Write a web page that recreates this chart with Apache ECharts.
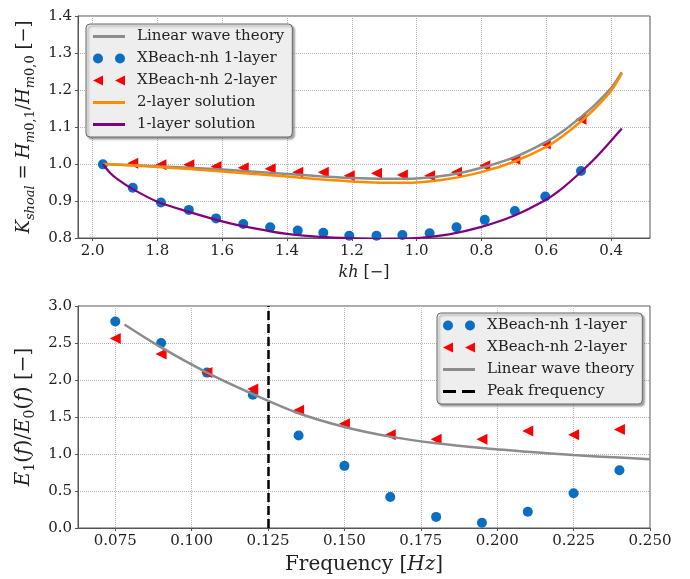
<!DOCTYPE html>
<html><head><meta charset="utf-8">
<script src="https://cdn.jsdelivr.net/npm/echarts@6/dist/echarts.min.js"></script>
<style>html,body{margin:0;padding:0;background:#fff}#c{width:690px;height:579px}</style>
</head><body><div id="c"></div>
<script>
// ---------- Top panel data (shoaling coefficient vs kh) ----------
const khTicks = [0.4, 0.6, 0.8, 1.0, 1.2, 1.4, 1.6, 1.8, 2.0];
const khNh1 = [1.968, 1.876, 1.789, 1.703, 1.619, 1.535, 1.452, 1.367, 1.288, 1.208, 1.124, 1.044, 0.960, 0.877, 0.790, 0.697, 0.603, 0.493];
const kNh1  = [0.999, 0.936, 0.896, 0.876, 0.853, 0.838, 0.829, 0.820, 0.814, 0.806, 0.806, 0.808, 0.813, 0.829, 0.849, 0.873, 0.912, 0.981];
const khNh2 = [1.876, 1.789, 1.703, 1.619, 1.535, 1.452, 1.367, 1.288, 1.208, 1.124, 1.044, 0.960, 0.877, 0.790, 0.697, 0.603, 0.493];
const kNh2  = [1.002, 0.998, 0.998, 0.993, 0.990, 0.987, 0.978, 0.978, 0.968, 0.975, 0.970, 0.968, 0.978, 0.995, 1.013, 1.054, 1.121];
const khLin = [1.968, 1.8, 1.6, 1.4, 1.3, 1.2, 1.1, 1.0, 0.9, 0.8, 0.7, 0.6, 0.55, 0.5, 0.45, 0.4, 0.367];
const kLin  = [1.000, 0.994, 0.985, 0.973, 0.967, 0.962, 0.960, 0.961, 0.970, 0.990, 1.018, 1.060, 1.088, 1.122, 1.160, 1.205, 1.248];
const khTwo = [1.968, 1.8, 1.6, 1.4, 1.3, 1.2, 1.1, 1.0, 0.9, 0.8, 0.7, 0.6, 0.55, 0.5, 0.45, 0.4, 0.367];
const kTwo  = [1.000, 0.992, 0.980, 0.966, 0.959, 0.953, 0.949, 0.950, 0.960, 0.978, 1.006, 1.046, 1.075, 1.110, 1.150, 1.198, 1.245];
const khOne = [1.968, 1.945, 1.92, 1.876, 1.8, 1.7, 1.6, 1.5, 1.4, 1.3, 1.2, 1.1, 1.0, 0.9, 0.8, 0.7, 0.6, 0.55, 0.5, 0.45, 0.4, 0.367];
const kOne  = [1.000, 0.975, 0.957, 0.932, 0.898, 0.870, 0.845, 0.826, 0.811, 0.803, 0.799, 0.797, 0.800, 0.810, 0.830, 0.860, 0.904, 0.935, 0.973, 1.015, 1.063, 1.096];

// ---------- Bottom panel data (energy ratio vs frequency) ----------
const freqTicks = [0.075, 0.100, 0.125, 0.150, 0.175, 0.200, 0.225, 0.250];
const freq  = [0.075, 0.090, 0.105, 0.120, 0.135, 0.150, 0.165, 0.180, 0.195, 0.210, 0.225, 0.240];
const eNh1  = [2.79, 2.50, 2.10, 1.80, 1.25, 0.84, 0.42, 0.15, 0.07, 0.22, 0.47, 0.78];
const eNh2  = [2.56, 2.35, 2.10, 1.88, 1.59, 1.41, 1.26, 1.20, 1.20, 1.31, 1.26, 1.33];
const freqLin = [0.078, 0.090, 0.105, 0.120, 0.135, 0.150, 0.165, 0.180, 0.195, 0.210, 0.225, 0.240, 0.250];
const eLin    = [2.75, 2.44, 2.10, 1.81, 1.55, 1.365, 1.235, 1.145, 1.08, 1.03, 0.985, 0.952, 0.93];
const peakFreq = 0.125;

const zip = (a, b) => a.map((v, i) => [v, b[i]]);
const SERIF = 'DejaVu Serif';
const BLUE = '#0a6fc2', RED = '#ff0000', GRAY = '#8c8c8c', ORANGE = '#ff8c00', PURPLE = '#800080';
const circ2 = 'path://M0,5a5,5 0 1,0 10,0a5,5 0 1,0 -10,0ZM22,5a5,5 0 1,0 10,0a5,5 0 1,0 -10,0Z';
const tri2 = 'path://M0,5L10,0L10,10ZM22,5L32,0L32,10Z';
const bar = 'path://M0,0H32V3H0Z';
const dash2 = 'path://M0,0H13V3H0ZM19,0H32V3H19Z';

const richName = (big) => ({
  i: {fontFamily: SERIF, fontStyle: 'italic', fontSize: big, lineHeight: 26, color: '#222'},
  n: {fontFamily: SERIF, fontSize: big, lineHeight: 26, color: '#222'},
  s: {fontFamily: SERIF, fontStyle: 'italic', fontSize: Math.round(big * 0.7), lineHeight: 14, verticalAlign: 'bottom', color: '#222'},
  d: {fontFamily: SERIF, fontSize: Math.round(big * 0.7), lineHeight: 14, verticalAlign: 'bottom', color: '#222'}
});

const gridLine = {show: true, lineStyle: {color: '#b5b5b5', type: 'dotted', width: 1}};
const axLine = {show: true, lineStyle: {color: '#555', width: 1}};
const tickLab = {fontFamily: SERIF, fontSize: 15, color: '#222', margin: 6};
const tick = {show: true, length: 3, lineStyle: {color: '#555'}};

const legendBase = {
  orient: 'vertical', itemWidth: 32, itemHeight: 10, itemGap: 7,
  backgroundColor: '#eeeeee', borderColor: '#666', borderWidth: 1, borderRadius: 4,
  shadowColor: 'rgba(0,0,0,0.35)', shadowBlur: 2, shadowOffsetX: 2, shadowOffsetY: 2,
  textStyle: {fontFamily: SERIF, fontSize: 15, color: '#222', padding: [0, 0, 0, 7], lineHeight: 15},
  selectedMode: false
};

const chart = echarts.init(document.getElementById('c'), null, {renderer: 'canvas'});
chart.setOption({
  animation: false,
  backgroundColor: '#fff',
  grid: [
    {left: 78, right: 40, top: 16, height: 222, show: true, borderColor: '#555', borderWidth: 1},
    {left: 78, right: 40, top: 306, height: 222, show: true, borderColor: '#555', borderWidth: 1}
  ],
  xAxis: [
    {type: 'value', gridIndex: 0, inverse: true, min: 0.28, max: 2.045,
     axisLine: axLine, axisTick: Object.assign({customValues: khTicks}, tick),
     axisLabel: Object.assign({customValues: khTicks, formatter: v => v.toFixed(1)}, tickLab),
     splitLine: gridLine,
     name: '{i|kh}{n| [−]}', nameLocation: 'middle', nameGap: 22,
     nameTextStyle: {rich: richName(16)}},
    {type: 'value', gridIndex: 1, min: 0.0628, max: 0.25,
     axisLine: axLine, axisTick: Object.assign({customValues: freqTicks}, tick),
     axisLabel: Object.assign({customValues: freqTicks, formatter: v => v.toFixed(3)}, tickLab),
     splitLine: gridLine,
     name: '{n|Frequency [}{i|Hz}{n|]}', nameLocation: 'middle', nameGap: 24,
     nameTextStyle: {rich: richName(20)}}
  ],
  yAxis: [
    {type: 'value', gridIndex: 0, min: 0.8, max: 1.4, interval: 0.1,
     axisLine: axLine, axisTick: tick,
     axisLabel: Object.assign({formatter: v => v.toFixed(1)}, tickLab),
     splitLine: gridLine,
     name: '{i|K}{s|shoal}{n| = }{i|H}{s|m}{d|0,1}{n|/}{i|H}{s|m}{d|0,0}{n| [−]}',
     nameLocation: 'middle', nameGap: 40, nameRotate: 90,
     nameTextStyle: {rich: richName(18)}},
    {type: 'value', gridIndex: 1, min: 0, max: 3, interval: 0.5,
     axisLine: axLine, axisTick: tick,
     axisLabel: Object.assign({formatter: v => v.toFixed(1)}, tickLab),
     splitLine: gridLine,
     name: '{i|E}{d|1}{n|(}{i|f}{n|)/}{i|E}{d|0}{n|(}{i|f}{n|) [−]}',
     nameLocation: 'middle', nameGap: 40, nameRotate: 90,
     nameTextStyle: {rich: richName(20)}}
  ],
  legend: [
    Object.assign({}, legendBase, {left: 86, top: 24, padding: [5, 8, 5, 7],
      data: [
        {name: 'Linear wave theory', icon: bar},
        {name: 'XBeach-nh 1-layer', icon: circ2},
        {name: 'XBeach-nh 2-layer', icon: tri2},
        {name: '2-layer solution', icon: bar},
        {name: '1-layer solution', icon: bar}
      ]}),
    Object.assign({}, legendBase, {left: 437, top: 313, padding: [5, 8, 5, 6],
      data: [
        {name: 'XBeach-nh 1-layer', icon: circ2},
        {name: 'XBeach-nh 2-layer', icon: tri2},
        {name: 'Linear wave theory', icon: bar},
        {name: 'Peak frequency', icon: dash2}
      ]})
  ],
  series: [
    {name: 'Linear wave theory', type: 'line', xAxisIndex: 0, yAxisIndex: 0, data: zip(khLin, kLin),
     smooth: 0.3, showSymbol: false, symbol: 'none', lineStyle: {color: GRAY, width: 2.5}, itemStyle: {color: GRAY}},
    {name: 'XBeach-nh 1-layer', type: 'scatter', xAxisIndex: 0, yAxisIndex: 0, data: zip(khNh1, kNh1),
     symbol: 'circle', symbolSize: 10, itemStyle: {color: BLUE, opacity: 1}},
    {name: 'XBeach-nh 2-layer', type: 'scatter', xAxisIndex: 0, yAxisIndex: 0, data: zip(khNh2, kNh2),
     symbol: 'triangle', symbolRotate: 90, symbolSize: 11, itemStyle: {color: RED, opacity: 1}},
    {name: '2-layer solution', type: 'line', xAxisIndex: 0, yAxisIndex: 0, data: zip(khTwo, kTwo),
     smooth: 0.3, showSymbol: false, symbol: 'none', lineStyle: {color: ORANGE, width: 2.5}, itemStyle: {color: ORANGE}},
    {name: '1-layer solution', type: 'line', xAxisIndex: 0, yAxisIndex: 0, data: zip(khOne, kOne),
     smooth: 0.3, showSymbol: false, symbol: 'none', clip: true, lineStyle: {color: PURPLE, width: 2.2}, itemStyle: {color: PURPLE}},

    {name: 'XBeach-nh 1-layer', type: 'scatter', xAxisIndex: 1, yAxisIndex: 1, data: zip(freq, eNh1),
     symbol: 'circle', symbolSize: 10, itemStyle: {color: BLUE, opacity: 1}},
    {name: 'XBeach-nh 2-layer', type: 'scatter', xAxisIndex: 1, yAxisIndex: 1, data: zip(freq, eNh2),
     symbol: 'triangle', symbolRotate: 90, symbolSize: 11, itemStyle: {color: RED, opacity: 1}},
    {name: 'Linear wave theory', type: 'line', xAxisIndex: 1, yAxisIndex: 1, data: zip(freqLin, eLin),
     smooth: 0.3, showSymbol: false, symbol: 'none', lineStyle: {color: GRAY, width: 2.5}, itemStyle: {color: GRAY},
     markLine: {silent: true, symbol: 'none', label: {show: false}, animation: false,
       lineStyle: {color: '#000', width: 2.5, type: [9, 4]},
       data: [[{coord: [peakFreq, 0]}, {coord: [peakFreq, 3]}]]}},
    {name: 'Peak frequency', type: 'line', xAxisIndex: 1, yAxisIndex: 1, data: [],
     symbol: 'none', lineStyle: {color: '#000', width: 2.5, type: [9, 4]}, itemStyle: {color: '#000'}}
  ]
});
</script>
</body></html>
